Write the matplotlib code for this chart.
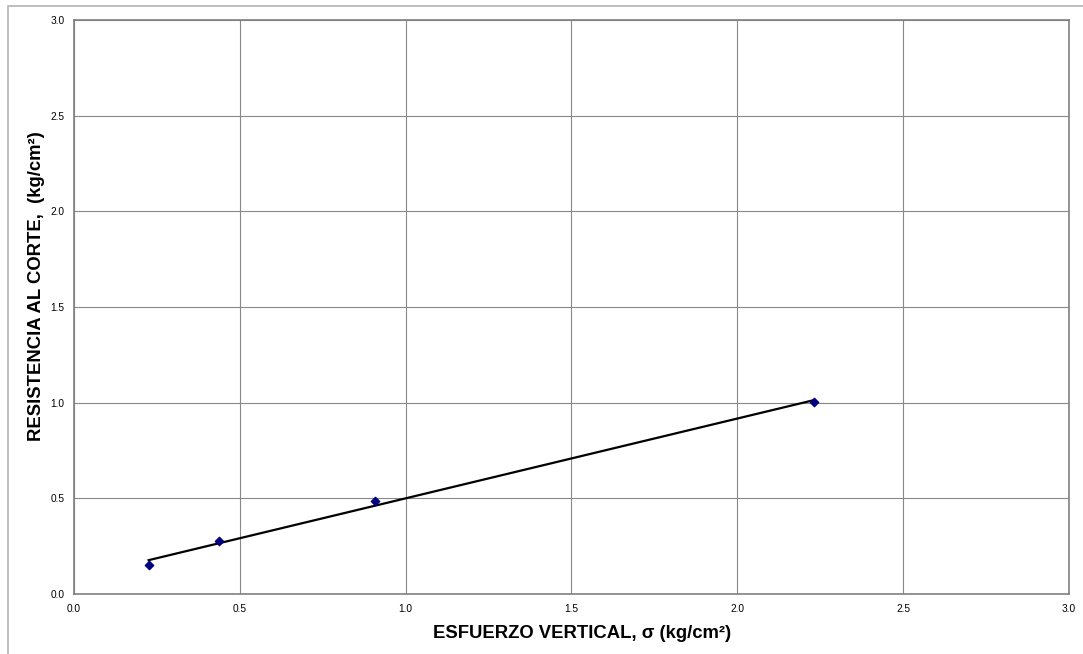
"""
Recta de resistencia al corte vs esfuerzo vertical (ensayo de corte directo)
"""
import numpy as np
import matplotlib
matplotlib.use("Agg")
import matplotlib.pyplot as plt
from matplotlib.patches import Rectangle

plt.rcParams['font.family'] = ['Liberation Sans', 'DejaVu Sans']

# puntos del ensayo
esfuerzo_vertical = [0.225, 0.437, 0.907, 2.231]
resistencia_corte = [0.152, 0.275, 0.486, 1.004]

ticks = [0.0, 0.5, 1.0, 1.5, 2.0, 2.5, 3.0]
tick_labels = ["0.0", "0.5", "1.0", "1.5", "2.0", "2.5", "3.0"]

fig = plt.figure(figsize=(10.83, 6.54), dpi=100)
ax = fig.add_axes([0.0683, 0.0917, 0.9187, 0.8777])

# marco exterior del grafico (recortado a la derecha y abajo)
fig.patches.append(Rectangle((8 / 1083, -0.1), 1.2, 0.1 + (654 - 6) / 654,
                             transform=fig.transFigure, fill=False,
                             edgecolor="#b4b4b4", linewidth=1.2))

# recta de ajuste por minimos cuadrados
m, b = np.polyfit(esfuerzo_vertical, resistencia_corte, 1)
x_fit = np.array([min(esfuerzo_vertical), max(esfuerzo_vertical)])
ax.plot(x_fit, m * x_fit + b, color="black", linewidth=1.6, zorder=3)

ax.scatter(esfuerzo_vertical, resistencia_corte, marker="D", s=18,
           color="#000080", zorder=4)

ax.set_xlim(0, 3)
ax.set_ylim(0, 3)
ax.set_xticks(ticks)
ax.set_xticklabels(tick_labels)
ax.set_yticks(ticks)
ax.set_yticklabels(tick_labels)
ax.tick_params(length=0, labelsize=7.3, pad=7)
ax.grid(True, color="#888888", linewidth=0.8)
ax.set_axisbelow(True)
for s in ax.spines.values():
    s.set_color("#808080")
    s.set_linewidth(1.2)

ax.set_xlabel("ESFUERZO VERTICAL, σ (kg/cm²)", fontsize=13.3,
              fontweight="bold")
ax.set_ylabel("RESISTENCIA AL CORTE,  (kg/cm²)", fontsize=13.3,
              fontweight="bold")
ax.xaxis.set_label_coords(0.5106, -0.054)
ax.yaxis.set_label_coords(-0.029, 0.536)

fig.savefig("out.png", dpi=100)
